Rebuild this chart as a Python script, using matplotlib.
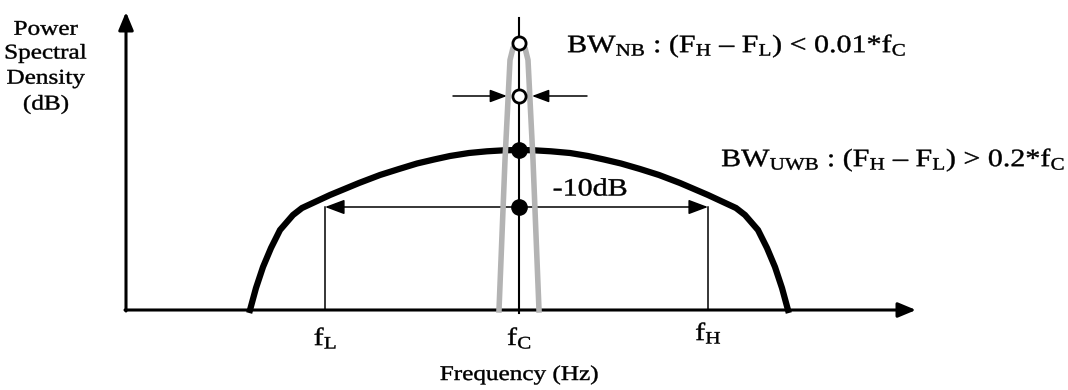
import matplotlib
matplotlib.use("Agg")
from matplotlib import pyplot as plt
from matplotlib.textpath import TextPath
from matplotlib.patches import PathPatch
from matplotlib.font_manager import FontProperties
from matplotlib.transforms import Affine2D

plt.rcParams["font.family"] = ["Liberation Serif", "DejaVu Serif"]
plt.rcParams["mathtext.fontset"] = "custom"
plt.rcParams["mathtext.rm"] = "Liberation Serif"
plt.rcParams["mathtext.it"] = "Liberation Serif"

# ultra-wideband spectrum (frequency, PSD above the noise floor)
uwb_freq = [250, 256, 263, 271, 280, 293, 302, 330, 359, 380, 399, 417, 434, 450,
            469, 487, 504, 519, 534, 551, 570, 588, 604, 621, 640, 659, 680, 708,
            736, 745, 758, 767, 775, 782, 788]
uwb_psd = [0, 22, 43, 62, 80, 95, 102, 115, 127, 135, 141, 146.5, 150.5, 154,
           157, 158.7, 159.7, 160, 159.7, 158.7, 157, 154, 150.5, 146.5, 141, 135,
           127, 115, 102, 95, 80, 62, 43, 22, 0]

# narrowband spectrum
nb_freq = [499, 505, 510, 513, 519, 525, 528, 533, 539]
nb_psd = [0, 150, 250, 262, 267, 262, 250, 150, 0]

f_c = 519
f_l, f_h = 325, 708
peak_uwb, minus10_uwb = 160, 103
peak_nb, half_nb = 267, 214
nb_arrow_l = (453, 507)
nb_arrow_r = (587, 532)

fig = plt.figure(figsize=(10.68, 3.9), dpi=100)
ax = fig.add_axes([0, 0, 1, 1])
ax.set_xlim(0, 1068)
ax.set_ylim(-80, 310)
ax.axis("off")

serif = FontProperties(family="Liberation Serif")


def wide_text(x, y, s, size, ha="center", sx=1.2):
    # text drawn as a path, widened horizontally by sx, centred vertically on y
    path = TextPath((0, 0), s, size=size, prop=serif)
    ext = path.get_extents()
    dx = -ext.x0 if ha == "left" else -(ext.x0 + ext.x1) / 2
    dy = -(ext.y0 + ext.y1) / 2
    tr = Affine2D().translate(dx, dy).scale(sx, 1).translate(x, y) + ax.transData
    ax.add_patch(PathPatch(path, transform=tr, facecolor="black",
                           edgecolor="black", lw=0.3))


# axes with arrow heads
axis_arrow = dict(arrowstyle="-|>,head_length=0.6,head_width=0.25", lw=2.2,
                  color="black", mutation_scale=18, shrinkA=0, shrinkB=0)
ax.annotate("", xy=(916, 0), xytext=(125, 0), arrowprops=axis_arrow)
ax.annotate("", xy=(126, 298), xytext=(126, -1), arrowprops=axis_arrow)

# centre frequency line
ax.plot([f_c, f_c], [-3, 292], color="black", lw=1.5, zorder=2)

# UWB curve
ax.plot(uwb_freq, uwb_psd, color="black", lw=4.5, solid_joinstyle="miter", zorder=3)

# -10 dB bandwidth
ax.plot([f_l, f_l], [0, minus10_uwb], color="black", lw=1.1, zorder=2)
ax.plot([f_h, f_h], [0, minus10_uwb], color="black", lw=1.1, zorder=2)
ax.annotate("", xy=(f_l, minus10_uwb), xytext=(f_h, minus10_uwb),
            arrowprops=dict(arrowstyle="<|-|>,head_length=0.8,head_width=0.3",
                            lw=1.1, color="black", mutation_scale=15,
                            shrinkA=0, shrinkB=0), zorder=4)

# narrowband curve
ax.plot(nb_freq, nb_psd, color="#b3b3b3", lw=4, zorder=4)

# narrowband width arrows
small_arrow = dict(arrowstyle="-|>,head_length=0.8,head_width=0.3", lw=1.1,
                   color="black", mutation_scale=13, shrinkA=0, shrinkB=0)
ax.annotate("", xy=(nb_arrow_l[1], half_nb), xytext=(nb_arrow_l[0], half_nb),
            arrowprops=small_arrow)
ax.annotate("", xy=(nb_arrow_r[1], half_nb), xytext=(nb_arrow_r[0], half_nb),
            arrowprops=small_arrow)

# markers
ax.plot([f_c, f_c], [peak_uwb, minus10_uwb], "o", color="black", ms=11, zorder=6)
ax.plot([f_c, f_c], [peak_nb, half_nb], "o", mfc="white", mec="black",
        mew=2, ms=9.5, zorder=6)

# labels
for i, line in enumerate(["Power", "Spectral", "Density", "(dB)"]):
    wide_text(46, 282 - 25.5 * i, line, 21)
wide_text(568, 264, r"BW$_{\mathrm{NB}}$ : (F$_{\mathrm{H}}$ – F$_{\mathrm{L}}$) < 0.01*f$_{\mathrm{C}}$",
          25, ha="left")
wide_text(722, 150, r"BW$_{\mathrm{UWB}}$ : (F$_{\mathrm{H}}$ – F$_{\mathrm{L}}$) > 0.2*f$_{\mathrm{C}}$",
          25, ha="left")
wide_text(590, 123, "-10dB", 25)

wide_text(f_l, -28, r"f$_{\mathrm{L}}$", 25)
wide_text(f_c, -28, r"f$_{\mathrm{C}}$", 25)
wide_text(f_h, -23, r"f$_{\mathrm{H}}$", 25)
wide_text(f_c, -65, "Frequency (Hz)", 21)

fig.savefig("out.png", dpi=100)
